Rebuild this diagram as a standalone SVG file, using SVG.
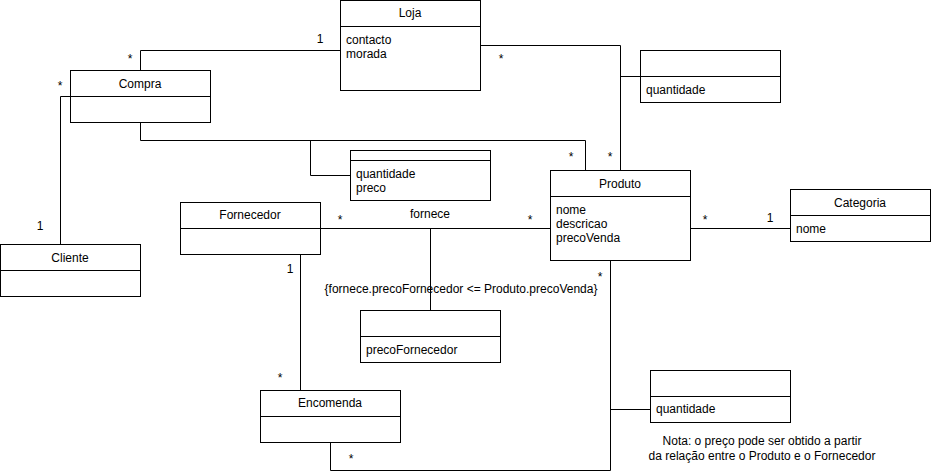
<svg xmlns="http://www.w3.org/2000/svg" width="932" height="473" viewBox="0 0 932 473">
  <style>
    .box { fill: #ffffff; stroke: #000000; stroke-width: 1; }
    .sep { stroke: #000000; stroke-width: 1; fill: none; }
    .edge { stroke: #000000; stroke-width: 1; fill: none; }
    text { font-family: "Liberation Sans", Arial, Helvetica, sans-serif; font-size: 12px; fill: #000000; }
    .title { text-anchor: middle; }
    .mid { text-anchor: middle; }
  </style>
  <rect width="932" height="473" fill="#ffffff"/>

  <!-- associations -->
  <g id="connectors">
    <!-- Compra - Loja -->
    <polyline class="edge" points="140.5,70.5 140.5,50.5 340.5,50.5"/>
    <text x="130" y="63" class="mid">*</text>
    <text x="320" y="43" class="mid">1</text>
    <!-- Compra - Cliente -->
    <polyline class="edge" points="70.5,96.5 60.5,96.5 60.5,244.5"/>
    <text x="60" y="90" class="mid">*</text>
    <text x="40" y="230" class="mid">1</text>
    <!-- Compra - Produto -->
    <polyline class="edge" points="140.5,122.5 140.5,140.5 585.5,140.5 585.5,170.5"/>
    <polyline class="edge" points="310.5,140.5 310.5,175.5 350.5,175.5"/>
    <text x="571" y="161" class="mid">*</text>
    <!-- Loja - Produto -->
    <polyline class="edge" points="480.5,45.5 620.5,45.5 620.5,170.5"/>
    <line class="edge" x1="620.5" y1="76.5" x2="640.5" y2="76.5"/>
    <text x="501" y="63" class="mid">*</text>
    <text x="610" y="161" class="mid">*</text>
    <!-- Fornecedor - Produto (fornece) -->
    <line class="edge" x1="320.5" y1="228.5" x2="550.5" y2="228.5"/>
    <line class="edge" x1="430.5" y1="228.5" x2="430.5" y2="310.5"/>
    <text x="340" y="224" class="mid">*</text>
    <text x="530" y="224" class="mid">*</text>
    <text x="430" y="218" class="mid">fornece</text>
    <text x="461" y="293" class="mid">{fornece.precoFornecedor &lt;= Produto.precoVenda}</text>
    <!-- Produto - Categoria -->
    <line class="edge" x1="690.5" y1="228.5" x2="790.5" y2="228.5"/>
    <text x="705" y="224" class="mid">*</text>
    <text x="770" y="222" class="mid">1</text>
    <!-- Fornecedor - Encomenda -->
    <line class="edge" x1="300.5" y1="254.5" x2="300.5" y2="390.5"/>
    <text x="290" y="273" class="mid">1</text>
    <text x="280" y="382" class="mid">*</text>
    <!-- Encomenda - Produto -->
    <polyline class="edge" points="330.5,442.5 330.5,470.5 610.5,470.5 610.5,260.5"/>
    <line class="edge" x1="610.5" y1="409.5" x2="650.5" y2="409.5"/>
    <text x="351" y="463" class="mid">*</text>
    <text x="600" y="281" class="mid">*</text>
  </g>

  <g id="loja">
    <rect class="box" x="340.5" y="0.5" width="140" height="90"/>
    <line class="sep" x1="340.5" y1="26.5" x2="480.5" y2="26.5"/>
    <text x="410" y="17" class="title">Loja</text>
    <text x="346" y="44">contacto</text>
    <text x="346" y="58">morada</text>
  </g>

  <g id="compra">
    <rect class="box" x="70.5" y="70.5" width="140" height="52"/>
    <line class="sep" x1="70.5" y1="96.5" x2="210.5" y2="96.5"/>
    <text x="140" y="88" class="title">Compra</text>
  </g>

  <g id="cliente">
    <rect class="box" x="0.5" y="244.5" width="140" height="52"/>
    <line class="sep" x1="0.5" y1="270.5" x2="140.5" y2="270.5"/>
    <text x="70" y="262" class="title">Cliente</text>
  </g>

  <g id="compra-produto-assoc">
    <rect class="box" x="350.5" y="150.5" width="140" height="50"/>
    <line class="sep" x1="350.5" y1="160.5" x2="490.5" y2="160.5"/>
    <text x="356" y="178">quantidade</text>
    <text x="356" y="192">preco</text>
  </g>

  <g id="loja-produto-assoc">
    <rect class="box" x="640.5" y="50.5" width="140" height="52"/>
    <line class="sep" x1="640.5" y1="76.5" x2="780.5" y2="76.5"/>
    <text x="646" y="94">quantidade</text>
  </g>

  <g id="produto">
    <rect class="box" x="550.5" y="170.5" width="140" height="90"/>
    <line class="sep" x1="550.5" y1="196.5" x2="690.5" y2="196.5"/>
    <text x="620" y="188" class="title">Produto</text>
    <text x="556" y="214">nome</text>
    <text x="556" y="228">descricao</text>
    <text x="556" y="242">precoVenda</text>
  </g>

  <g id="categoria">
    <rect class="box" x="790.5" y="189.5" width="140" height="52"/>
    <line class="sep" x1="790.5" y1="215.5" x2="930.5" y2="215.5"/>
    <text x="860" y="207" class="title">Categoria</text>
    <text x="796" y="233">nome</text>
  </g>

  <g id="fornecedor">
    <rect class="box" x="180.5" y="202.5" width="140" height="52"/>
    <line class="sep" x1="180.5" y1="228.5" x2="320.5" y2="228.5"/>
    <text x="250" y="219" class="title">Fornecedor</text>
  </g>

  <g id="fornece-assoc">
    <rect class="box" x="360.5" y="310.5" width="140" height="52"/>
    <line class="sep" x1="360.5" y1="336.5" x2="500.5" y2="336.5"/>
    <text x="366" y="354">precoFornecedor</text>
  </g>

  <g id="encomenda">
    <rect class="box" x="260.5" y="390.5" width="140" height="52"/>
    <line class="sep" x1="260.5" y1="416.5" x2="400.5" y2="416.5"/>
    <text x="330" y="407" class="title">Encomenda</text>
  </g>

  <g id="encomenda-produto-assoc">
    <rect class="box" x="650.5" y="370.5" width="140" height="52"/>
    <line class="sep" x1="650.5" y1="396.5" x2="790.5" y2="396.5"/>
    <text x="656" y="413">quantidade</text>
  </g>

  <g id="nota">
    <text x="762" y="445" class="mid">Nota: o preço pode ser obtido a partir</text>
    <text x="762" y="460" class="mid">da relação entre o Produto e o Fornecedor</text>
  </g>
</svg>
